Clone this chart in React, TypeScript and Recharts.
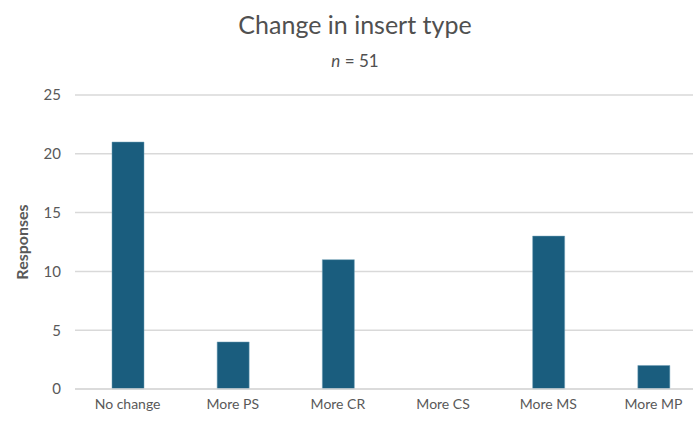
import React from 'react';
import { BarChart, Bar, XAxis, YAxis, CartesianGrid } from 'recharts';

// Responses per change category
const categories = ['No change', 'More PS', 'More CR', 'More CS', 'More MS', 'More MP'];
const responses = [21, 4, 11, 0, 13, 2];
const yTicks = [0, 5, 10, 15, 20, 25];

const data = categories.map((name, i) => ({ name, value: responses[i] }));

const FONT = 'Lato, "Open Sans", sans-serif';
const TEXT = '#595959';
const BAR = '#1a5d7e';
const GRID = '#d9d9d9';

export default function App() {
  return (
    <div
      style={{
        position: 'fixed',
        left: 0,
        top: 0,
        width: 693,
        height: 421,
        overflow: 'hidden',
        background: '#fff',
        fontFamily: FONT,
      }}
    >
      <div
        style={{
          position: 'absolute',
          left: 0,
          width: 710,
          top: 9,
          textAlign: 'center',
          fontSize: 25,
          color: '#505050',
          lineHeight: '30px',
        }}
      >
        Change in insert type
      </div>
      <div
        style={{
          position: 'absolute',
          left: 0,
          width: 710,
          top: 50,
          textAlign: 'center',
          fontSize: 17,
          color: '#505050',
          lineHeight: '22px',
        }}
      >
        <i>n</i> = 51
      </div>
      <div style={{ position: 'absolute', left: 0, top: 0 }}>
        <BarChart
          width={720}
          height={421}
          data={data}
          margin={{ top: 95, right: 14, bottom: 0, left: 0 }}
          barSize={32}
        >
          <CartesianGrid vertical={false} stroke={GRID} strokeWidth={1.5} />
          <XAxis
            dataKey="name"
            height={32}
            tickLine={false}
            axisLine={{ stroke: GRID, strokeWidth: 1.5 }}
            tickMargin={4}
            interval={0}
            tick={{ fill: TEXT, fontSize: 14, fontFamily: FONT }}
          />
          <YAxis
            width={75}
            domain={[0, 25]}
            ticks={yTicks}
            tickLine={false}
            axisLine={false}
            tickMargin={8}
            tick={{ fill: TEXT, fontSize: 15, fontFamily: FONT }}
            label={{
              value: 'Responses',
              angle: -90,
              position: 'center',
              dx: -15,
              fill: TEXT,
              fontSize: 16,
              fontWeight: 'bold',
              fontFamily: FONT,
            }}
          />
          <Bar
            dataKey="value"
            fill={BAR}
            stroke="#6f9fb6"
            strokeWidth={0.5}
            isAnimationActive={false}
          />
        </BarChart>
      </div>
    </div>
  );
}
